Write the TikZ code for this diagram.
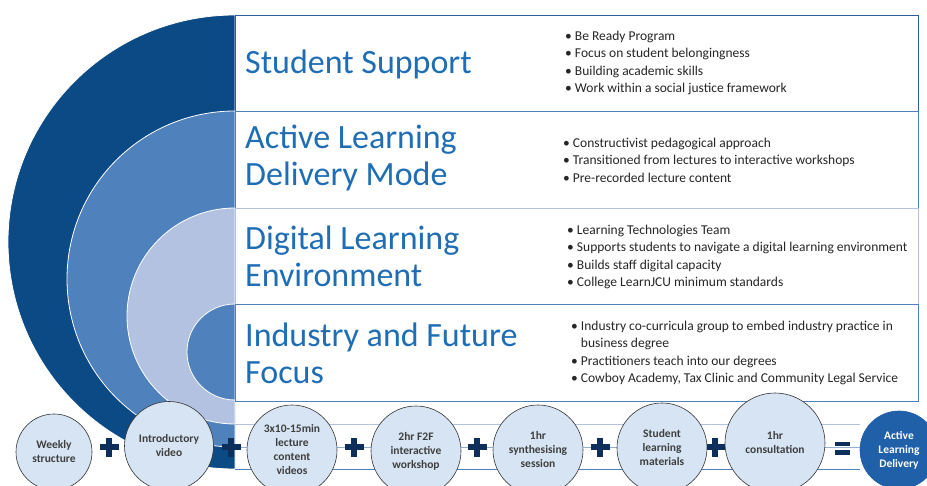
\documentclass[tikz,border=0pt]{standalone}
\usepackage{fontspec}
\setmainfont{Carlito}
\definecolor{navy}{HTML}{0C4A86}
\definecolor{midblue}{HTML}{4F81BD}
\definecolor{lightblue}{HTML}{B3C2E1}
\definecolor{titleblue}{HTML}{1F6EB5}
\definecolor{circfill}{HTML}{D6E4F3}
\definecolor{plusnavy}{HTML}{0E2E5C}
\definecolor{deliv}{HTML}{1F60A8}
\definecolor{txtgray}{HTML}{3F3F3F}
\definecolor{rowone}{HTML}{2C5F9C}
\begin{document}
\begin{tikzpicture}[x=1pt,y=-1pt,
  arcpart/.style={draw=white, line width=0.8pt},
  rowbox/.style={line width=0.9pt, fill=white},
  title/.style={anchor=west, text=titleblue, font=\fontsize{34}{37}\selectfont, align=left, inner sep=0pt},
  bullets/.style={anchor=west, text=black!85, font=\fontsize{13.5}{17.6}\selectfont, align=left, inner sep=0pt},
  stepcirc/.style={circle, draw=black!80, line width=0.6pt, fill=circfill, text=txtgray,
    font=\bfseries\fontsize{11.5}{14}\selectfont, align=center, inner sep=0pt, minimum size=#1},
  plusmark/.pic={\fill[plusnavy] (-9.5,-3.2) rectangle (9.5,3.2);
                 \fill[plusnavy] (-3.2,-9.5) rectangle (3.2,9.5);},
  equalsmark/.pic={\fill[plusnavy] (-7.5,-6.5) rectangle (7.5,-2);
                   \fill[plusnavy] (-7.5,2) rectangle (7.5,6.5);}
]
\useasboundingbox (0,0) rectangle (927,486);
\begin{scope}
\clip (0,0) rectangle (927,486);
% half circles
\fill[navy, arcpart] (235,15) arc[start angle=270, end angle=90, radius=227] -- cycle;
\fill[midblue, arcpart] (235,111) arc[start angle=270, end angle=90, radius=168] -- cycle;
\fill[lightblue, arcpart] (235,208) arc[start angle=270, end angle=90, radius=108] -- cycle;
\fill[midblue, arcpart] (235,304) arc[start angle=270, end angle=90, radius=48] -- cycle;

% rows
\draw[rowbox, draw=rowone] (235,15) rectangle (918,111);
\draw[rowbox, draw=midblue] (235,111) rectangle (918,208);
\draw[rowbox, draw=lightblue] (235,208) rectangle (918,304);
\draw[rowbox, draw=midblue] (235,304) rectangle (918,401);

% bottom lines
\draw[lightblue, line width=0.9pt] (235,424) -- (860,424);
\draw[lightblue!70!midblue, line width=0.9pt] (235,447) -- (880,447);
\draw[midblue, line width=0.9pt] (235,469) -- (860,469);

% titles
\node[title] (t1) at (245,64) {Student Support};
\node[title] (t2) at (245,158) {Active Learning\\Delivery Mode};
\node[title] (t3) at (245,256) {Digital Learning\\Environment};
\node[title] (t4) at (245,353) {Industry and Future\\Focus};

% bullets
\node[bullets] (b1) at (565,63) {• Be Ready Program\\• Focus on student belongingness\\• Building academic skills\\• Work within a social justice framework};
\node[bullets] (b2) at (563,160) {• Constructivist pedagogical approach\\• Transitioned from lectures to interactive workshops\\• Pre-recorded lecture content};
\node[bullets] (b3) at (567,257) {• Learning Technologies Team\\• Supports students to navigate a digital learning environment\\• Builds staff digital capacity\\• College LearnJCU minimum standards};
\node[bullets] (b4) at (571,353) {• Industry co-curricula group to embed industry practice in\\\phantom{• }business degree\\• Practitioners teach into our degrees\\• Cowboy Academy, Tax Clinic and Community Legal Service};

% operators
\pic at (109,447) {plusmark};
\pic at (231,447) {plusmark};
\pic at (354,447) {plusmark};
\pic at (477,447) {plusmark};
\pic at (600,447) {plusmark};
\pic at (715,447) {plusmark};
\pic at (842,448) {equalsmark};

% step circles
\node[stepcirc=76] (c1) at (54,452) {Weekly\\structure};
\node[stepcirc=89] (c2) at (169,446) {Introductory\\video};
\node[stepcirc=90] (c3) at (292,450) {3x10-15min\\lecture\\content\\videos};
\node[stepcirc=90] (c4) at (416,451) {2hr F2F\\interactive\\workshop};
\node[stepcirc=90] (c5) at (538,450) {1hr\\synthesising\\session};
\node[stepcirc=90] (c6) at (662,448) {Student\\learning\\materials};
\node[stepcirc=100] (c7) at (775,443) {1hr\\consultation};
\node[stepcirc=78, fill=deliv, draw=deliv, text=white] (c8) at (899,450) {Active\\Learning\\Delivery};
\end{scope}
\end{tikzpicture}
\end{document}
